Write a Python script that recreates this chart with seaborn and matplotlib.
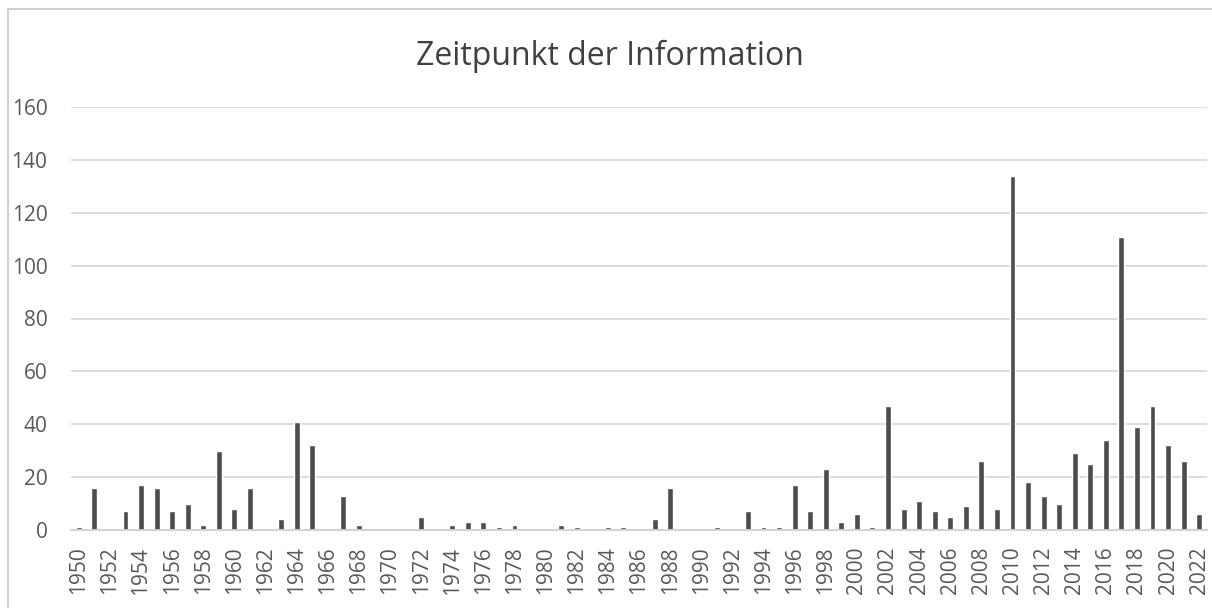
import matplotlib
matplotlib.use("Agg")
import matplotlib.pyplot as plt
import seaborn as sns
import pandas as pd
from matplotlib.patches import Rectangle

years = list(range(1950, 2023))
counts = [1, 16, 0, 7, 17, 16, 7, 10, 2, 30,
          8, 16, 0, 4, 41, 32, 0, 13, 2, 0,
          0, 0, 5, 0, 2, 3, 3, 1, 2, 0,
          0, 2, 1, 0, 1, 1, 0, 4, 16, 0,
          0, 1, 0, 7, 1, 1, 17, 7, 23, 3,
          6, 1, 47, 8, 11, 7, 5, 9, 26, 8,
          134, 18, 13, 10, 29, 25, 34, 111, 39, 47,
          32, 26, 6]
title = "Zeitpunkt der Information"
yticks = [0, 20, 40, 60, 80, 100, 120, 140, 160]

df = pd.DataFrame({"Jahr": [str(y) for y in years], "Anzahl": counts})

sns.set_theme(style="white")
plt.rcParams["font.family"] = ["Open Sans", "DejaVu Sans"]

fig = plt.figure(figsize=(12.12, 6.08), dpi=100)
ax = fig.add_axes([71/1212, 78/608, (1207-71)/1212, (530-107)/608])

sns.barplot(data=df, x="Jahr", y="Anzahl", order=df["Jahr"], color="#4d4d4d",
            saturation=1, width=0.38, ax=ax, zorder=3)

ax.set_ylim(0, 160)
ax.set_xlim(-0.5, len(years) - 0.5)
ax.set_yticks(yticks)
ax.yaxis.grid(True, color="#d9d9d9", linewidth=1.3, zorder=0)
ax.set_axisbelow(True)
for s in ["top", "right", "left"]:
    ax.spines[s].set_visible(False)
ax.spines["bottom"].set_color("#d0d0d0")
ax.spines["bottom"].set_linewidth(1.3)
ax.spines["bottom"].set_zorder(4)

labels = [str(y) if (y - 1950) % 2 == 0 else "" for y in years]
ax.set_xticks(range(len(years)))
ax.set_xticklabels(labels, rotation=90)
ax.tick_params(axis="x", length=0, pad=12, labelsize=15, labelcolor="#595959")
ax.tick_params(axis="y", length=0, pad=17, labelsize=15, labelcolor="#595959")
ax.set_xlabel("")
ax.set_ylabel("")

fig.text(0.503, 1 - 56/608, title, ha="center", va="center", fontsize=23,
         color="#404040")

fig.patches.append(Rectangle((8/1212, -0.05), 1.2, 1 - 9/608 + 0.05,
                             transform=fig.transFigure, fill=False,
                             edgecolor="#d0d0d0", linewidth=1.5))

fig.savefig("out.png", dpi=100, facecolor="white")
